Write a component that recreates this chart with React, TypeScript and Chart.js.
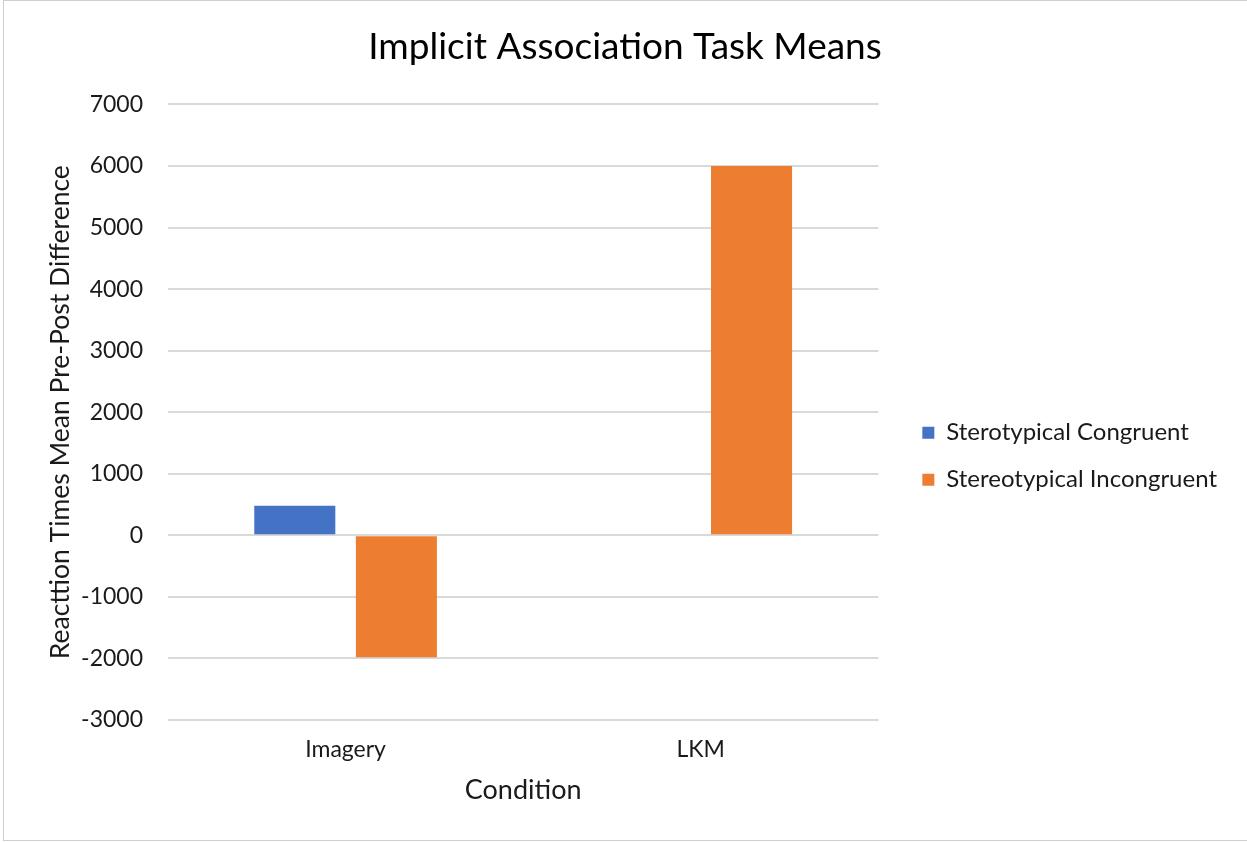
import React, { useEffect, useRef } from "react";
import { Chart, registerables } from "chart.js";

Chart.register(...registerables);

const categories = ["Imagery", "LKM"];
const congruentValues = [480, 0];
const incongruentValues = [-1980, 6000];
const seriesNames = ["Sterotypical Congruent", "Stereotypical Incongruent"];
const chartTitle = "Implicit Association Task Means";
const yTitle = "Reacttion Times Mean Pre-Post Difference";
const xTitle = "Condition";
const yMin = -3000;
const yMax = 7000;
const yStep = 1000;

const FONT = "Lato, 'Open Sans', sans-serif";
const LEGEND_FONT_SIZE = 24;
const LEGEND_PAD = 23;
const LEGEND_BOX = 12;

export default function App() {
  const ref = useRef<HTMLCanvasElement | null>(null);

  useEffect(() => {
    if (!ref.current) return;
    const ctx = ref.current.getContext("2d")!;
    ctx.font = `${LEGEND_FONT_SIZE}px ${FONT}`;
    const textW = Math.max(...seriesNames.map((n) => ctx.measureText(n).width));
    const legendW = LEGEND_PAD + LEGEND_BOX + LEGEND_FONT_SIZE / 2 + textW + 10;
    const plotRight = 878;
    const spacerW = 21;
    const padRight = Math.max(0, Math.round(1247 - plotRight - spacerW - legendW));
    const padLeft = padRight + 3;

    const chart = new Chart(ref.current, {
      type: "bar",
      data: {
        labels: categories,
        datasets: [
          {
            label: seriesNames[0],
            data: congruentValues,
            backgroundColor: "#4472C4",
            borderWidth: 0,
          },
          {
            label: seriesNames[1],
            data: incongruentValues,
            backgroundColor: "#ED7D31",
            borderWidth: 0,
          },
        ],
      },
      options: {
        responsive: false,
        animation: false,
        datasets: {
          bar: { categoryPercentage: 0.572, barPercentage: 0.798 },
        },
        layout: { padding: { left: padLeft, right: padRight, top: 0, bottom: 22 } },
        plugins: {
          title: {
            display: true,
            text: chartTitle,
            color: "#000",
            font: { family: FONT, size: 37, weight: "normal" },
            padding: { top: 25, bottom: 35 },
          },
          legend: {
            display: true,
            position: "right",
            fullSize: false,
            align: "center",
            maxWidth: 600,
            title: {
              display: true,
              text: "",
              font: { size: 10 },
              padding: 38,
            },
            labels: {
              boxWidth: LEGEND_BOX,
              boxHeight: LEGEND_BOX,
              padding: LEGEND_PAD,
              color: "#1a1a1a",
              font: { family: FONT, size: LEGEND_FONT_SIZE },
            },
          },
          tooltip: { enabled: false },
        },
        scales: {
          x: {
            grid: { display: false, drawTicks: false },
            border: { display: false },
            ticks: {
              padding: 16,
              color: "#1a1a1a",
              font: { family: FONT, size: 23 },
            },
            title: {
              display: true,
              text: xTitle,
              color: "#1a1a1a",
              font: { family: FONT, size: 27 },
              padding: { top: 0, bottom: 14 },
            },
            afterFit: (s: any) => {
              s.height = 100;
            },
          },
          y: {
            min: yMin,
            max: yMax,
            grid: {
              color: "#d9d9d9",
              lineWidth: 2,
              drawTicks: false,
            },
            border: { display: false },
            ticks: {
              stepSize: yStep,
              padding: 25,
              color: "#1a1a1a",
              font: { family: FONT, size: 23 },
              callback: (v: any) => String(v),
            },
            title: {
              display: true,
              text: yTitle,
              color: "#1a1a1a",
              font: { family: FONT, size: 26.5 },
              padding: { top: Math.max(0, 45 - padLeft), bottom: 0 },
            },
            afterFit: (s: any) => {
              s.width = 168 - padLeft;
            },
          },
          spacer: {
            type: "linear",
            position: "right",
            display: true,
            grid: { display: false, drawTicks: false },
            border: { display: false },
            ticks: { display: false },
            title: { display: false },
            afterFit: (s: any) => {
              s.width = spacerW;
            },
          },
        },
      },
    });
    return () => chart.destroy();
  }, []);

  return (
    <div style={{ position: "absolute", left: 0, top: 0, width: 1247, height: 842, background: "#fff" }}>
      <div
        style={{
          position: "absolute",
          left: 3,
          top: 0,
          width: 1243,
          height: 839,
          borderTop: "1px solid #cfcfcf",
          borderLeft: "1px solid #cfcfcf",
          borderBottom: "1px solid #cfcfcf",
        }}
      />
      <canvas ref={ref} width={1247} height={842} style={{ position: "absolute", left: 0, top: 0 }} />
    </div>
  );
}
